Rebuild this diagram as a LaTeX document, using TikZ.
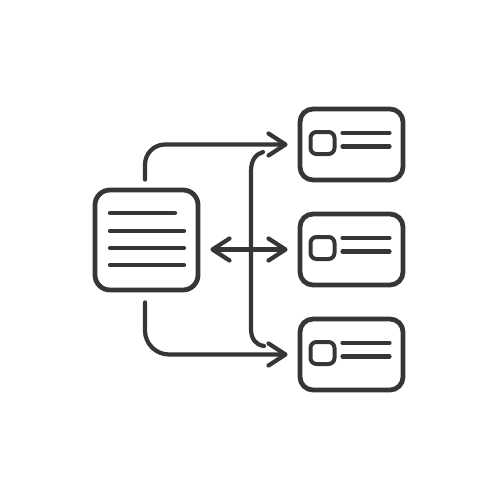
\documentclass[tikz,border=0pt]{standalone}
\usetikzlibrary{arrows.meta,calc}
\definecolor{ink}{HTML}{363636}
\begin{document}
\begin{tikzpicture}[x=1pt,y=-1pt,
  box/.style={draw=ink,line width=4.8pt,rounded corners=15pt,minimum width=103pt,minimum height=100pt,inner sep=0pt},
  card/.style={draw=ink,line width=4.8pt,rounded corners=13pt,minimum width=103pt,minimum height=71pt,inner sep=0pt},
  conn/.style={draw=ink,line width=4.2pt,line cap=round,line join=round},
  tip/.style={-{Straight Barb[length=17pt,width=22pt,line cap=round,line join=round]}},
  txt/.style={draw=ink,line width=4.2pt,line cap=round}]
\useasboundingbox (0,0) rectangle (500,500);
\fill[white] (0,0) rectangle (500,500);
% nodes
\node[box] (L) at (146.5,240) {};
\node[card] (T) at (351.5,144.5) {};
\node[card] (M) at (351.5,249.5) {};
\node[card] (B) at (351.5,354.5) {};
% text lines of the left box
\draw[txt] (110,213) -- (175,213);
\draw[txt] (110,231) -- (184,231);
\draw[txt] (110,248) -- (184,248);
\draw[txt] (110,265) -- (184,265);
% card contents
\foreach \c in {T,M,B}{
  \draw[draw=ink,line width=4pt,rounded corners=6pt]
    ($(\c.center)+(-41,-12.5)$) rectangle ($(\c.center)+(-17,9.5)$);
  \draw[txt] ($(\c.center)+(-9,-11.5)$) -- ($(\c.center)+(38,-11.5)$);
  \draw[txt] ($(\c.center)+(-9,2)$) -- ($(\c.center)+(38,2)$);
}
% connectors
\coordinate (s1) at ([shift={(-1.5,-8)}]L.north);
\coordinate (s2) at ([shift={(-1.5,10)}]L.south);
\draw[conn,tip,rounded corners=20pt] (s1) |- ([xshift=-10pt]T.west);
\draw[conn,tip,rounded corners=24pt] (s2) |- ([xshift=-10pt]B.west);
\draw[conn,{Straight Barb[length=17pt,width=22pt,line cap=round,line join=round]}-{Straight Barb[length=17pt,width=22pt,line cap=round,line join=round]}]
  ([xshift=10pt]L.east |- M.west) -- ([xshift=-10pt]M.west);
% vertical bracket
\coordinate (vt) at (263,152);
\coordinate (vb) at (264,346);
\draw[conn] (vt) .. controls (256,154) and (251,160) .. (251,171)
  -- (251,329) .. controls (251,339) and (256,345) .. (vb);
\end{tikzpicture}
\end{document}
